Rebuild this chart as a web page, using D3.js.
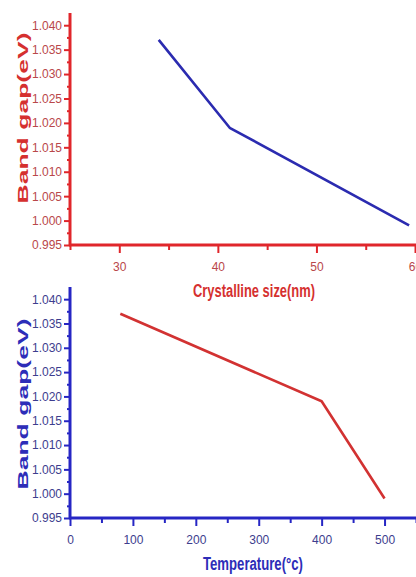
<!DOCTYPE html>
<html>
<head>
<meta charset="utf-8">
<script src="https://cdn.jsdelivr.net/npm/d3@7"></script>
<style>
  body { margin: 0; background: #fff; }
  .tick text { font-family: "Liberation Sans Narrow", "Arial Narrow", sans-serif; }
</style>
</head>
<body>
<div id="container"></div>
<script>
/* DATA */
const sizeNm = [34.0, 41.2, 59.4];
const gapBySize = [1.037, 1.019, 0.999];
const tempC = [80, 400, 500];
const gapByTemp = [1.037, 1.019, 0.999];
const gapTicks = [0.995, 1.000, 1.005, 1.010, 1.015, 1.020, 1.025, 1.030, 1.035, 1.040];
const sizeTicks = [30, 40, 50, 60];
const tempTicks = [0, 100, 200, 300, 400, 500];

/* CONSTANTS AND GLOBALS */
const width = 416, height = 577;

const svg = d3.select("#container")
  .append("svg")
  .attr("width", width)
  .attr("height", height);

// one panel = axes + line
function drawPanel(cfg) {
  const x = d3.scaleLinear().domain(cfg.xDomain).range([70, width]);
  const y = d3.scaleLinear().domain([0.995, 1.0425]).range([cfg.bottom, cfg.top]);

  const g = svg.append("g");

  // minor ticks
  const yMinor = d3.range(0.9975, 1.042, 0.005);
  g.append("g")
    .attr("transform", `translate(70,0)`)
    .call(d3.axisLeft(y).tickValues(yMinor).tickSize(3).tickFormat(""))
    .call(s => s.select(".domain").remove());
  g.append("g")
    .attr("transform", `translate(0,${cfg.bottom})`)
    .call(d3.axisBottom(x).tickValues(cfg.xMinor).tickSize(5).tickFormat(""))
    .call(s => s.select(".domain").remove());

  // y axis
  g.append("g")
    .attr("class", "yaxis")
    .attr("transform", `translate(70,0)`)
    .call(d3.axisLeft(y).tickValues(gapTicks).tickSize(6).tickPadding(2).tickFormat(d3.format(".3f")))
    .call(s => s.select(".domain").remove());

  // x axis
  g.append("g")
    .attr("class", "xaxis")
    .attr("transform", `translate(0,${cfg.bottom})`)
    .call(d3.axisBottom(x).tickValues(cfg.xTicks).tickSize(8).tickPadding(9))
    .call(s => s.select(".domain").remove());

  g.selectAll(".tick line").attr("stroke", cfg.axisColor).attr("stroke-width", 2);
  g.selectAll(".tick text")
    .attr("fill", cfg.tickColor)
    .attr("font-size", 12);

  // axis lines
  g.append("line")
    .attr("x1", 70).attr("x2", 70)
    .attr("y1", y(1.0425)).attr("y2", cfg.bottom + 1)
    .attr("stroke", cfg.axisColor).attr("stroke-width", 3);
  g.append("line")
    .attr("x1", 69).attr("x2", width)
    .attr("y1", cfg.bottom).attr("y2", cfg.bottom)
    .attr("stroke", cfg.axisColor).attr("stroke-width", 3);

  // data line
  const line = d3.line().x(d => x(d[0])).y(d => y(d[1]));
  g.append("path")
    .datum(d3.zip(cfg.xs, cfg.ys))
    .attr("d", line)
    .attr("fill", "none")
    .attr("stroke", cfg.lineColor)
    .attr("stroke-width", 2.6)
    .attr("stroke-linejoin", "round");

  // titles
  g.append("text")
    .attr("transform", `translate(28,${cfg.yTitleY}) rotate(-90)`)
    .attr("text-anchor", "middle")
    .attr("font-family", "Liberation Sans, Arial, sans-serif")
    .attr("font-weight", "bold")
    .attr("font-size", 15)
    .attr("textLength", 171)
    .attr("lengthAdjust", "spacingAndGlyphs")
    .attr("fill", cfg.titleColor)
    .text("Band gap(eV)");

  g.append("text")
    .attr("x", cfg.xTitleX)
    .attr("y", cfg.bottom + 52)
    .attr("text-anchor", "middle")
    .attr("font-family", "Liberation Sans Narrow, Arial Narrow, sans-serif")
    .attr("font-weight", "bold")
    .attr("font-size", 18)
    .attr("textLength", cfg.xTitleW)
    .attr("lengthAdjust", "spacingAndGlyphs")
    .attr("fill", cfg.titleColor)
    .text(cfg.xTitle);
}

drawPanel({
  xDomain: [25, 60.1], xTicks: sizeTicks, xMinor: [25, 35, 45, 55],
  top: 13, bottom: 245, yTitleY: 118,
  xs: sizeNm, ys: gapBySize,
  axisColor: "#e0262b", tickColor: "#b9474a", lineColor: "#2b2bb0", titleColor: "#d5302f",
  xTitle: "Crystalline size(nm)", xTitleX: 254, xTitleW: 122
});

drawPanel({
  xDomain: [0, 550], xTicks: tempTicks, xMinor: [50, 150, 250, 350, 450, 550],
  top: 287, bottom: 518, yTitleY: 404,
  xs: tempC, ys: gapByTemp,
  axisColor: "#2626c4", tickColor: "#3d3d8e", lineColor: "#d23232", titleColor: "#2d2db8",
  xTitle: "Temperature(\u00b0c)", xTitleX: 253, xTitleW: 100
});
</script>
</body>
</html>
